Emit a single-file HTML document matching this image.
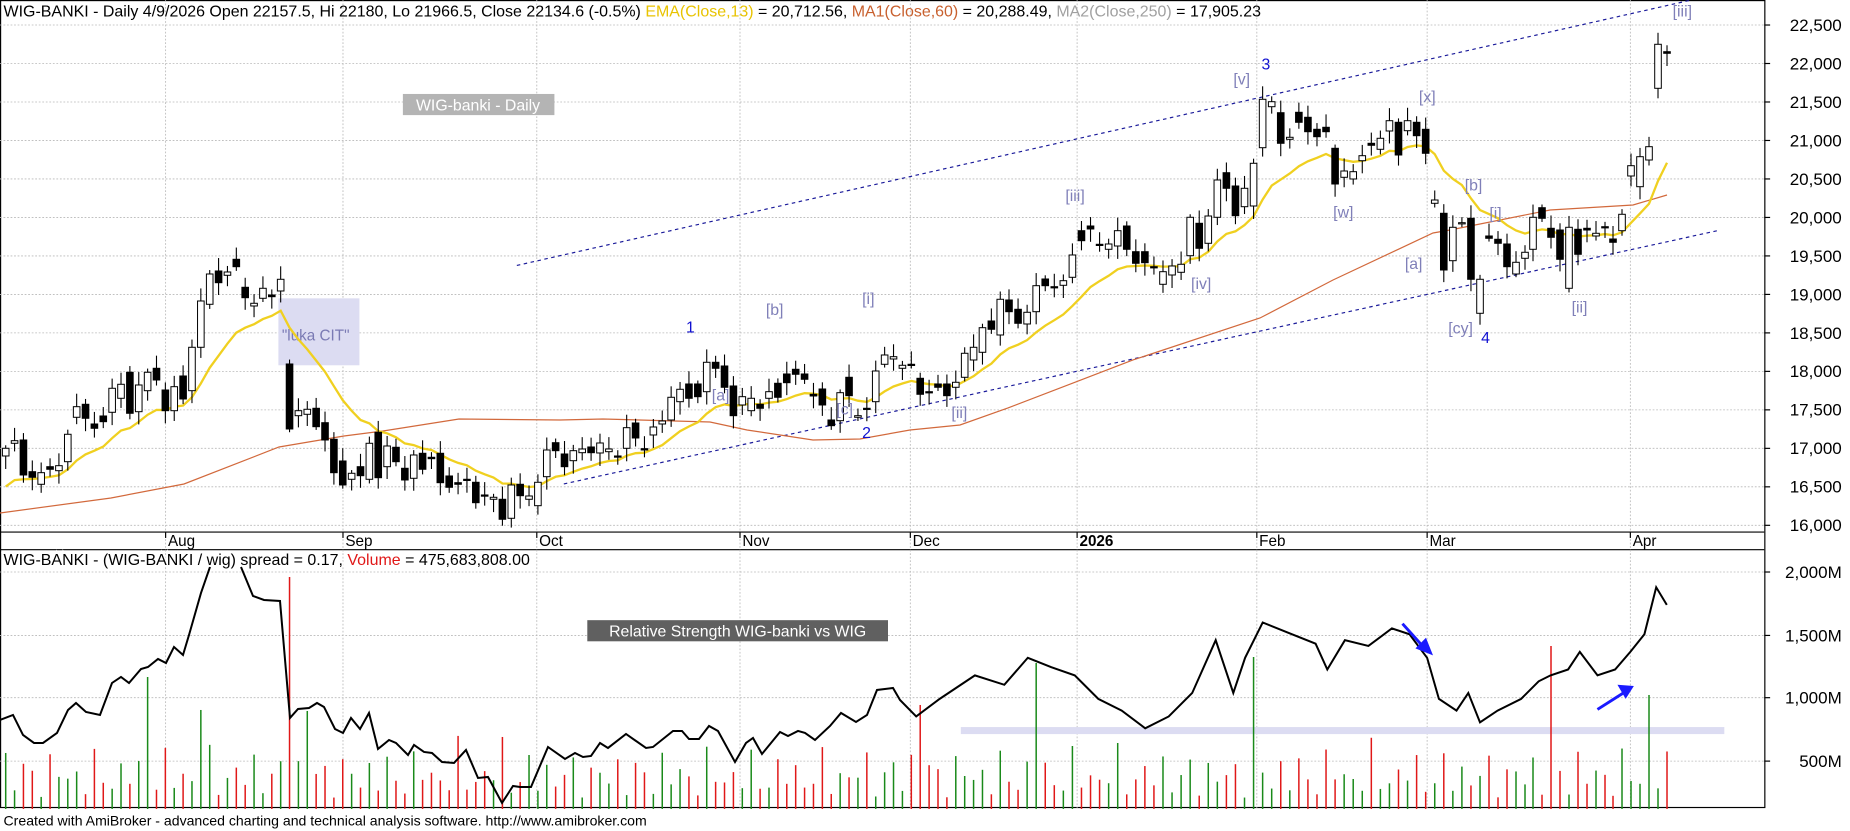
<!DOCTYPE html>
<html><head><meta charset="utf-8">
<style>
html,body{margin:0;padding:0;background:#fff;width:1850px;height:831px;overflow:hidden}
svg{display:block}
text{font-family:"Liberation Sans",Arial,sans-serif}
</style></head>
<body>
<svg id="c" width="1850" height="831" viewBox="0 0 1575 707.5" preserveAspectRatio="none" xmlns="http://www.w3.org/2000/svg"></svg>
<script>
const S=document.getElementById('c');let h='';
const AX=1502;
function py(p){return 21.3+(22500-p)*0.06553;}
h+=`<rect x="0.5" y="0.5" width="${AX}" height="687" fill="none" stroke="#000" stroke-width="1"/>`;
h+=`<line x1="0" y1="453" x2="${AX}" y2="453" stroke="#000"/><line x1="0" y1="468" x2="${AX}" y2="468" stroke="#000"/>`;
for(let p=16000;p<=22500;p+=500){const y=py(p);
h+=`<line x1="0" y1="${y}" x2="${AX}" y2="${y}" stroke="#b8b8b8" stroke-width="0.7" stroke-dasharray="1.5,1.5"/>`;
h+=`<line x1="${AX}" y1="${y}" x2="${AX+5}" y2="${y}" stroke="#000"/>`;
h+=`<text x="1568" y="${y+5}" font-size="14.5" text-anchor="end">${p.toLocaleString('en-US')}</text>`;}
[[2000,487],[1500,541],[1000,594],[500,648]].forEach(([v,y])=>{
h+=`<line x1="0" y1="${y}" x2="${AX}" y2="${y}" stroke="#b8b8b8" stroke-width="0.7" stroke-dasharray="1.5,1.5"/>`;
h+=`<line x1="${AX}" y1="${y}" x2="${AX+5}" y2="${y}" stroke="#000"/>`;
h+=`<text x="1568" y="${y+5}" font-size="14.5" text-anchor="end">${v.toLocaleString('en-US')}M</text>`;});
const months=[[141,'Aug'],[292,'Sep'],[457,'Oct'],[630,'Nov'],[775,'Dec'],[917,'2026'],[1070,'Feb'],[1215,'Mar'],[1388,'Apr']];
months.forEach(([x,l])=>{
h+=`<line x1="${x}" y1="0" x2="${x}" y2="688" stroke="#b8b8b8" stroke-width="0.7" stroke-dasharray="1.5,1.5"/>`;
h+=`<line x1="${x}" y1="453" x2="${x}" y2="458" stroke="#000"/>`;
h+=`<text x="${x+2}" y="465" font-size="13" ${l=='2026'?'font-weight="bold"':''}>${l}</text>`;});
h+=`<rect x="237" y="254" width="69" height="57" fill="#dcdcf2"/>`;
h+=`<text x="240" y="290" font-size="13" fill="#7a7ab4">"luka CIT"</text>`;
h+=`<rect x="818" y="619" width="650" height="6" fill="#dcdcf2"/>`;
h+=`<line x1="440" y1="226" x2="1440" y2="0" stroke="#1a1a9a" stroke-width="1" stroke-dasharray="3,3"/>`;
h+=`<line x1="480" y1="412" x2="1464" y2="196" stroke="#1a1a9a" stroke-width="1" stroke-dasharray="3,3"/>`;

const Z1=[[1,448.3,456],[1,440.7,443.3],[0,440,475],[0,471.7,477.3],[1,472.7,484.3],[0,466.7,469.3],[1,465.7,470.7],[1,434.3,461.7],[1,406.7,417.3],[0,404.3,418.3],[0,424,428.3],[0,416,421.7],[1,388.3,412.3],[1,384.3,398.3],[0,372.3,413.3],[1,385,411.7],[1,372.3,390.7],[0,368.3,380],[0,390,410.7],[1,386.7,410.7],[0,376,399],[1,347.3,390.7],[1,301,347.3],[1,274,304.3],[0,271,282.7],[1,272,275.3],[0,259.3,266.7],[0,287.3,297.7],[1,303.3,306],[1,288.3,298.3],[0,295,296.7],[1,279.3,291],[0,364,429],[1,410.7,415.7],[1,409.3,414.3],[0,408.3,426.7],[0,422.7,440],[0,439.3,472.7],[0,461,485],[1,473.3,479.3],[0,466.7,475.7],[1,443.3,479.3],[0,432.3,477.7],[1,446,466.7],[0,447.3,461.7],[0,468.3,480],[1,455,478.3],[0,453.3,469.3],[0,457.3,458.7],[0,453.3,482.7],[0,476,487.3],[0,482.7,484.3],[0,479.3,480],[0,482.3,502.7],[0,495,496],[1,497.3,499.3],[0,499.3,519.3],[1,485,518.3],[0,484.3,495.7],[1,496,499.3],[1,482.3,505.7],[1,450,476.7],[0,442.7,450.7],[0,454,466.7]];
const Z2=[[1,450.7,460.7],[1,449,452.7],[0,447,452.7],[1,443,453],[1,449,451.7],[0,456,457],[1,427.7,448.3],[0,423,438],[0,448.7,450],[1,427,435],[1,421,424],[1,397.3,420],[1,389.3,401.7],[0,384,398.3],[0,384,396.7],[1,362.3,391.7],[0,362.3,368.3],[0,366,387.3],[0,386,415.7],[1,396.7,405],[1,398.3,410.7],[0,404.3,408.3],[1,391.7,398.3],[0,383.3,397.3],[0,374,382.7],[0,369.3,374.3],[0,374,379.3],[0,394.3,396],[0,389,405],[0,420,425.7],[1,392.7,420.7],[0,377.3,395.7],[1,415.7,417.3],[0,408.3,409.3],[1,371,401.7],[1,355,364.3],[1,356.7,359],[1,365.3,368.3],[0,364.3,365.3],[0,378.3,394.3],[0,391.7,392.7],[0,384,387.3],[0,384,395.7],[1,382.3,387.3],[1,353.3,377.3],[1,347.3,360],[1,327.7,352.3],[0,321,329.3],[1,299.3,335]];
const Z6=[[0,300,311.7],[0,309.3,323.3],[1,312.3,324],[1,285.7,311.7],[0,279,285.7],[0,286.7,287.3],[1,280.7,285.3],[1,255,277.3],[0,230.7,240.7],[0,226,229],[0,244.3,245.3],[1,244,249.3],[1,230.7,246],[0,226,249.3],[0,251.7,263.3],[0,251.7,262.7],[0,266.7,267.3],[1,271.7,284.3],[1,266,275],[1,264.3,272.3],[1,217.3,255.7],[0,223.3,248.3],[1,216,243.3],[1,180,217.3],[0,172.7,188.3],[0,186,215.7],[1,188.3,206.7],[1,163.3,206],[1,99.3,147.7],[1,101.7,106.7],[0,112.7,143.3],[1,137.3,139.3],[0,112.3,122.3],[0,117.3,131.7],[0,129.3,136.7],[0,127.3,131.7],[0,148.3,184],[1,171,177.3],[1,171.7,179],[1,155.7,160.7],[0,143.3,145.3],[1,138.3,149.3],[1,120.7,131],[0,122.3,155],[1,120.7,130.7],[0,122.3,135.7],[0,129.3,153.3],[1,200,203.3],[0,213.3,270],[1,227.3,260.7],[1,222.7,223.3],[0,218.3,279.3],[1,279.3,313.3]];
const Z3=[[1489,0,236,238.3],[1498,0,239.3,243.3],[1507,0,244,266.7],[1516,1,262.3,274],[1525,1,252.3,258.3],[1533,1,217.3,249.3],[1542,0,207.7,218.3],[1551,0,228.3,237.3],[1560,0,230,259.3],[1569,1,227.3,288.3],[1578,0,229.3,254.3],[1587,0,228.3,230],[1596,1,233.3,236],[1605,0,226.7,227.3],[1613,0,239,242.3],[1622,1,214.3,230.7],[1631,1,165.7,176],[1640,1,156.7,186.7],[1649,1,146.7,160],[1658,1,44.3,88.3],[1667,0,51.7,53.3]];
let C=[];
Z1.forEach((d,i)=>C.push([5.7+i*8.87,...d]));
Z2.forEach((d,i)=>C.push([573.3+i*8.895,...d]));
Z6.forEach((d,i)=>C.push([1009+i*9.058,...d]));
Z3.forEach(d=>C.push(d));
let cand='',clo=[];
C.forEach((d,i)=>{const [x,up,t,b]=d;
const w1=3+Math.abs(Math.sin(i*1.37))*10,w2=3+Math.abs(Math.cos(i*2.11))*10;
cand+=`<line x1="${x}" y1="${t-w1}" x2="${x}" y2="${b+w2}" stroke="#000" stroke-width="1.1"/>`;
cand+=`<rect x="${x-3.3}" y="${t}" width="6.6" height="${Math.max(b-t,1.2)}" fill="${up?'#fff':'#000'}" stroke="#000" stroke-width="1"/>`;
clo.push(up?t:b);});
let A='<g transform="scale(0.851355)">';
const O=[[0,513],[111,498],[184,484],[279,447],[344,436],[383,431],[459,419],[560,420],[603,419],[710,422],[747,430],[813,440],[860,439],[910,430],[960,425],[1008,408],[1133,360],[1260,318],[1333,280],[1433,233],[1450,230],[1550,210],[1633,205],[1667,195]];
A+=`<polyline points="${O.map(p=>p.join(',')).join(' ')}" fill="none" stroke="#d2693c" stroke-width="1.2"/>`;
let e=493,ep=[];const al=2/14;
C.forEach((d,i)=>{e=e+al*(clo[i]-e);ep.push(d[0].toFixed(1)+','+e.toFixed(1));});
A+=`<polyline points="${ep.join(' ')}" fill="none" stroke="#f0d020" stroke-width="2.3"/>`;
A+=cand;
const spec=[[148,677,1],[201,710,1],[290,577,0],[308,711,1],[503,737,0],[916,705,0],[1034,663,1],[1254,657,1],[1553,646,0],[1651,695,1]];
let vol='';
C.forEach((d,i)=>{const x=d[0];let top=735+Math.abs(Math.sin(i*1.91))*45+Math.abs(Math.cos(i*0.77))*18;let up=d[1];
spec.forEach(s=>{if(Math.abs(s[0]-x)<4.5){top=s[1];up=s[2];}});
vol+=`<line x1="${x}" y1="809" x2="${x}" y2="${top}" stroke="${up?'#1a8a1a':'#e01818'}" stroke-width="1.5"/>`;});
A+=vol;
const R1=[[0,720],[13,715],[23,735],[34,743],[43,743],[57,733],[68,710],[76,703],[86,712],[100,715],[112,683],[121,677],[129,683],[141,669],[148,667],[158,659],[166,663],[174,647],[183,655],[189,635],[201,593],[210,567]];
const R2=[[241,567],[253,596],[264,600],[280,601],[290,718],[298,709],[309,708],[317,703],[324,707],[335,729],[343,733],[351,718],[360,729],[369,713],[378,749],[389,740],[396,743],[408,755],[414,745],[424,752],[432,753],[442,762],[454,763],[466,750],[478,778],[488,777],[502,803],[513,786],[520,787],[531,787],[548,747],[565,759],[575,753],[583,757],[591,756],[600,743],[608,748],[626,734],[646,748],[653,747],[673,731],[682,731],[689,739],[699,739],[709,726],[718,731],[735,762],[746,743],[753,738],[762,754],[780,732],[788,736],[798,731],[805,733],[815,740],[830,726],[841,713],[856,722],[867,715],[877,690],[893,688],[900,700]];
A+=`<polyline points="${R1.map(p=>p.join(',')).join(' ')}" fill="none" stroke="#000" stroke-width="2"/>`;
const R3=[[780,610],[800,595],[830,575],[855,583],[875,560],[895,568],[915,575],[935,595],[955,605],[975,620],[995,610],[1015,590],[1035,545],[1050,590],[1060,560],[1075,530],[1100,540],[1120,548],[1130,570],[1145,545],[1165,550],[1185,535],[1200,540],[1215,560],[1225,595],[1240,605],[1250,590],[1260,615],[1275,605],[1295,595],[1310,580],[1320,575],[1335,570],[1345,555],[1360,575],[1375,570],[1388,555],[1400,540],[1410,500],[1419,515]].map(p=>[p[0]*1.1746,p[1]*1.1746]);
const RR=R2.concat(R3);
A+=`<polyline points="${RR.map(p=>p[0].toFixed(1)+','+p[1].toFixed(1)).join(' ')}" fill="none" stroke="#000" stroke-width="2"/>`;
A+='</g>';
h+=A;
h+=`<rect x="343" y="80" width="129" height="18" fill="#b4b4b4"/><text x="407" y="94" font-size="13.5" fill="#fff" text-anchor="middle">WIG-banki - Daily</text>`;
const L=[["[b]",652,268],["[a]",606,341],["[c]",712,353],["[i]",734,259],["[ii]",810,356],["[iii]",907,171],["[iv]",1014,246],["[v]",1050,72],["[w]",1135,185],["[x]",1208,87],["[b]",1247,162],["[a]",1196,229],["[i]",1268,186],["[cy]",1233,284],["[ii]",1338,266],["[iii]",1424,14]];
L.forEach(([t,x,y])=>h+=`<text x="${x}" y="${y}" font-size="13.5" fill="#7f7fb8">${t}</text>`);
[["1",584,283],["2",734,373],["3",1074,59],["4",1261,292]].forEach(([t,x,y])=>h+=`<text x="${x}" y="${y}" font-size="13.5" fill="#1010d0">${t}</text>`);
h+=`<text x="3" y="14" font-size="13.6"><tspan fill="#000">WIG-BANKI - Daily 4/9/2026 Open 22157.5, Hi 22180, Lo 21966.5, Close 22134.6 (-0.5%) </tspan><tspan fill="#e8c300">EMA(Close,13)</tspan><tspan fill="#000"> = 20,712.56, </tspan><tspan fill="#c8602e">MA1(Close,60)</tspan><tspan fill="#000"> = 20,288.49, </tspan><tspan fill="#a0a0a0">MA2(Close,250)</tspan><tspan fill="#000"> = 17,905.23</tspan></text>`;
h+=`<line x1="1194" y1="531" x2="1212" y2="551" stroke="#1a1aff" stroke-width="2.5"/><polygon points="1220,558 1205,552 1214,543" fill="#1a1aff"/>`;
h+=`<line x1="1360" y1="604" x2="1382" y2="590" stroke="#1a1aff" stroke-width="2.5"/><polygon points="1391,584 1377,583 1384,595" fill="#1a1aff"/>`;
h+=`<rect x="500" y="528" width="256" height="18" fill="#606060"/><text x="628" y="542" font-size="13.5" fill="#fff" text-anchor="middle">Relative Strength WIG-banki vs WIG</text>`;
h+=`<text x="3" y="481" font-size="13.6" style="paint-order:stroke" stroke="#fff" stroke-width="3">WIG-BANKI - (WIG-BANKI / wig) spread = 0.17, <tspan fill="#e01818">Volume</tspan> = 475,683,808.00</text>`;
h+=`<text x="3" y="703" font-size="12">Created with AmiBroker - advanced charting and technical analysis software. http://www.amibroker.com</text>`;
S.innerHTML=h;
</script>
</body></html>
